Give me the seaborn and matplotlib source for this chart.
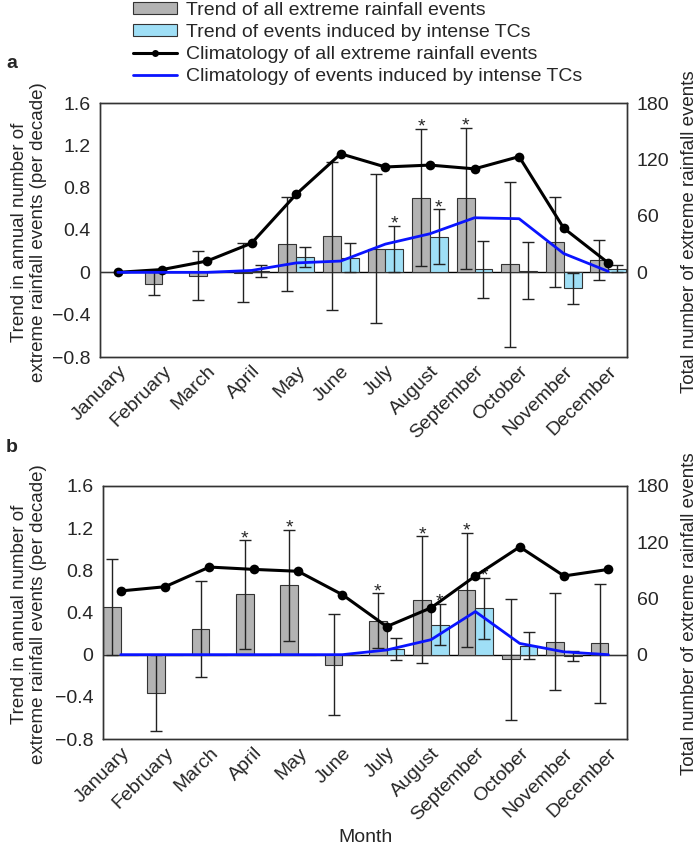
import numpy as np
import pandas as pd
import matplotlib
matplotlib.use('Agg')
import matplotlib.pyplot as plt
import seaborn as sns
from matplotlib.patches import Patch
from matplotlib.lines import Line2D

#-----------------
## data
months = ['January', 'February', 'March', 'April', 'May', 'June', 'July',
          'August', 'September', 'October', 'November', 'December']
nan = np.nan

# panel a : trends (per decade) and half width of the error bar
a_trend_all = [nan, -0.107, -0.03, -0.005, 0.265, 0.346, 0.225, 0.706, 0.70, 0.076, 0.283, 0.12]
a_err_all = [nan, 0.11, 0.23, 0.28, 0.445, 0.70, 0.705, 0.648, 0.667, 0.78, 0.425, 0.19]
a_trend_tc = [nan, nan, nan, 0.015, 0.148, 0.139, 0.224, 0.337, 0.03, 0.016, -0.15, 0.035]
a_err_tc = [nan, nan, nan, 0.055, 0.096, 0.14, 0.218, 0.257, 0.268, 0.27, 0.148, 0.032]
# climatology (total number of events)
a_clim_all = [0, 3, 12, 31, 83, 126, 112, 114, 110, 123, 47, 10]
a_clim_tc = [0, 0, 0, 2, 10, 12, 30, 41, 58, 57, 20, 1]
a_sig_all = [7, 8]
a_sig_tc = [6, 7]

# panel b
b_trend_all = [0.454, -0.365, 0.244, 0.571, 0.66, -0.096, 0.324, 0.52, 0.616, -0.043, 0.124, 0.108]
b_err_all = [0.454, 0.363, 0.452, 0.514, 0.527, 0.478, 0.257, 0.603, 0.54, 0.573, 0.46, 0.565]
b_trend_tc = [nan, nan, nan, nan, nan, nan, 0.056, 0.286, 0.438, 0.085, -0.014, nan]
b_err_tc = [nan, nan, nan, nan, nan, nan, 0.106, 0.197, 0.293, 0.127, 0.046, nan]
b_clim_all = [68, 72.5, 93.5, 91, 89, 64, 30, 50, 84, 115, 84, 91]
b_clim_tc = [0, 0, 0, 0, 0, 0, 5, 16, 46, 12, 3, 0]
b_sig_all = [3, 4, 6, 7, 8]
b_sig_tc = [7, 8]

left_ticks = [-0.8, -0.4, 0, 0.4, 0.8, 1.2, 1.6]
left_labels = ['\u22120.8', '\u22120.4', '0', '0.4', '0.8', '1.2', '1.6']
right_ticks = [0, 60, 120, 180]

GREY = '#b3b3b3'
CYAN = '#9fdff6'
EDGE = '#333333'
BLUE = '#0a14ff'

sns.set_theme(style='white')
plt.rcParams['font.family'] = ['Liberation Sans', 'DejaVu Sans']
FS = 14

fig = plt.figure(figsize=(6.99, 8.52), dpi=100)
W, H = 699, 852


def rect(l, t, r, b):
    return [l / W, 1 - b / H, (r - l) / W, (b - t) / H]


def panel(ax, trend_all, err_all, trend_tc, err_tc, clim_all, clim_tc, sig_all, sig_tc):
    df = pd.DataFrame({
        'month': months * 2,
        'series': ['all'] * 12 + ['tc'] * 12,
        'value': list(trend_all) + list(trend_tc),
    })
    df['value'] = df['value'].fillna(0)
    sns.barplot(data=df, x='month', y='value', hue='series', order=months,
                hue_order=['all', 'tc'], palette={'all': GREY, 'tc': CYAN},
                errorbar=None, saturation=1, width=0.8, edgecolor=EDGE,
                linewidth=0.8, legend=False, ax=ax, zorder=2)
    x = np.arange(12)
    ax.axhline(0, color='black', lw=1, zorder=1)
    for off, t, e in [(-0.2, trend_all, err_all), (0.2, trend_tc, err_tc)]:
        ax.errorbar(x + off, t, yerr=e, fmt='none', ecolor='#222222',
                    elinewidth=1, capsize=4, capthick=1, zorder=3)
    for off, t, e, sig in [(-0.2, trend_all, err_all, sig_all), (0.2, trend_tc, err_tc, sig_tc)]:
        for i in sig:
            ax.annotate('*', (i + off, t[i] + e[i]), xytext=(0, -2),
                        textcoords='offset points', ha='center', va='baseline',
                        fontsize=FS)
    ax.set_ylim(-0.8, 1.6)
    ax.set_yticks(left_ticks)
    ax.set_yticklabels(left_labels, fontsize=FS)
    ax.set_xticks(x)
    ax.set_xticklabels(months, rotation=45, ha='right', va='top',
                       rotation_mode='anchor', fontsize=FS)
    ax.set_xlabel('')
    ax.set_ylabel('')
    ax.tick_params(length=0, pad=7)
    ax.tick_params(axis='x', pad=4)

    ax2 = ax.twinx()
    sns.lineplot(x=x, y=clim_all, color='black', lw=2.2, marker='o',
                 markersize=7, markeredgewidth=0, ax=ax2)
    sns.lineplot(x=x, y=clim_tc, color=BLUE, lw=2.0, ax=ax2)
    ax2.set_ylim(-90, 180)
    ax2.set_yticks(right_ticks)
    ax2.set_yticklabels([str(v) for v in right_ticks], fontsize=FS)
    ax2.tick_params(length=0, pad=7)
    ax.set_xlim(-0.4, 11.42)
    for a in (ax, ax2):
        for s in a.spines.values():
            s.set_color(EDGE)
            s.set_linewidth(1)
    return ax2


ax_a = fig.add_axes(rect(100, 103, 627, 357))
panel(ax_a, a_trend_all, a_err_all, a_trend_tc, a_err_tc, a_clim_all, a_clim_tc, a_sig_all, a_sig_tc)
ax_b = fig.add_axes(rect(103, 486, 627, 739))
panel(ax_b, b_trend_all, b_err_all, b_trend_tc, b_err_tc, b_clim_all, b_clim_tc, b_sig_all, b_sig_tc)

ylab = 'Trend in annual number of\nextreme rainfall events (per decade)'
rlab = 'Total number of extreme rainfall events'
for yc in [232, 614]:
    fig.text(29 / W, 1 - yc / H, ylab, rotation=90, ha='center', va='center',
             fontsize=FS - 0.5, linespacing=1.2)
    fig.text(689 / W, 1 - yc / H, rlab, rotation=90, ha='center', va='center',
             fontsize=FS - 0.5)
fig.text(6 / W, 1 - 64 / H, 'a', fontsize=FS, fontweight='bold', ha='left', va='center')
fig.text(6 / W, 1 - 447 / H, 'b', fontsize=FS, fontweight='bold', ha='left', va='center')
fig.text(365 / W, 1 - 838 / H, 'Month', fontsize=FS, ha='center', va='center')

handles = [
    Patch(facecolor=GREY, edgecolor=EDGE, linewidth=0.8),
    Patch(facecolor=CYAN, edgecolor=EDGE, linewidth=0.8),
    Line2D([], [], color='black', lw=2.2, marker='o', markersize=5, markeredgewidth=0),
    Line2D([], [], color=BLUE, lw=2.0),
]
labels = ['Trend of all extreme rainfall events',
          'Trend of events induced by intense TCs',
          'Climatology of all extreme rainfall events',
          'Climatology of events induced by intense TCs']
fig.legend(handles, labels, loc='upper left', bbox_to_anchor=(133 / W, 1 - 2 / H),
           frameon=False, fontsize=FS, borderpad=0, borderaxespad=0,
           handlelength=2.25, handleheight=0.6, handletextpad=0.45,
           labelspacing=0.26)

fig.savefig('out.png', dpi=100)
